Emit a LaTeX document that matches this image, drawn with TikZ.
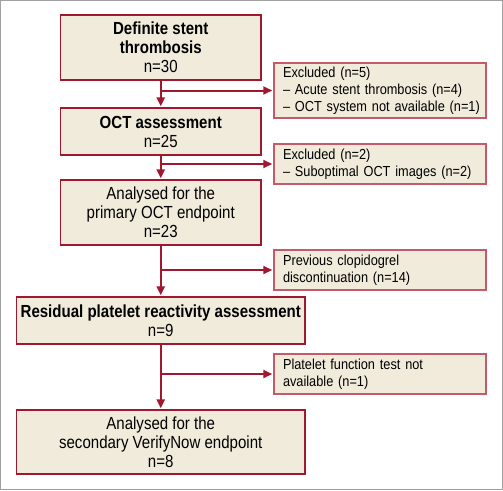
\documentclass[tikz,border=0pt]{standalone}
\usepackage{fontspec}
\setmainfont[FakeStretch=0.86]{Liberation Sans}
\newfontfamily\sidefont[FakeStretch=0.88]{Liberation Sans}
\newcommand\sidein{\hspace*{4.5pt}}
\usetikzlibrary{arrows.meta}
\definecolor{boxfill}{HTML}{F0EBDA}
\definecolor{linered}{HTML}{A0182F}
\definecolor{sidered}{HTML}{C45A6A}
\definecolor{frame}{HTML}{A0A0A0}
\tikzset{
  mainbox/.style={draw=linered, line width=1.2pt, fill=boxfill, align=center, inner sep=0pt,
    font=\fontsize{17.5}{19}\selectfont},
  sidebox/.style={draw=sidered, line width=1.5pt, fill=boxfill, align=left, inner ysep=0pt,
    inner xsep=4.5pt, text width=203pt, minimum width=212pt, font=\sidefont\fontsize{14.5}{17}\selectfont},
  arr/.style={draw=linered, line width=2pt, -{Triangle[length=9pt,width=8pt]}, shorten >=1pt},
}
\begin{document}
\begin{tikzpicture}[x=1pt,y=-1pt]
\useasboundingbox (0,0) rectangle (503,490);
\draw[frame, line width=1pt] (0.5,0.5) rectangle (502.5,489.5);

\node[mainbox, minimum width=200.5pt, minimum height=65pt] (b1) at (160.75,47.5)
  {\textbf{Definite stent}\\\textbf{thrombosis}\\n=30};
\node[mainbox, minimum width=200.5pt, minimum height=47pt] (b2) at (160.75,131.5)
  {\textbf{OCT assessment}\\n=25};
\node[mainbox, minimum width=200.5pt, minimum height=65pt] (b3) at (160.75,212.5)
  {Analysed for the\\primary OCT endpoint\\n=23};
\node[mainbox, minimum width=288.5pt, minimum height=47pt] (b4) at (160.75,320.5)
  {\textbf{Residual platelet reactivity assessment}\\n=9};
\node[mainbox, minimum width=288.5pt, minimum height=64pt] (b5) at (160.75,442)
  {Analysed for the\\secondary VerifyNow endpoint\\n=8};

\node[sidebox, minimum height=55pt] (s1) at (380,90.5)
  {\sidein Excluded (n=5)\\\sidein – Acute stent thrombosis (n=4)\\\sidein – OCT system not available (n=1)};
\node[sidebox, minimum height=40pt] (s2) at (380,164)
  {\sidein Excluded (n=2)\\\sidein – Suboptimal OCT images (n=2)};
\node[sidebox, minimum height=40pt] (s3) at (380,270)
  {\sidein Previous clopidogrel\\\sidein discontinuation (n=14)};
\node[sidebox, minimum height=40pt] (s4) at (380,374)
  {\sidein Platelet function test not\\\sidein available (n=1)};

\draw[arr] (b1) -- (b2);
\draw[arr] (b2) -- (b3);
\draw[arr] (b3) -- (b4);
\draw[arr] (b4) -- (b5);

\draw[arr] (b1.south |- s1.west) -- (s1.west);
\draw[arr] (b2.south |- s2.west) -- (s2.west);
\draw[arr] (b3.south |- s3.west) -- (s3.west);
\draw[arr] (b4.south |- s4.west) -- (s4.west);
\end{tikzpicture}
\end{document}
